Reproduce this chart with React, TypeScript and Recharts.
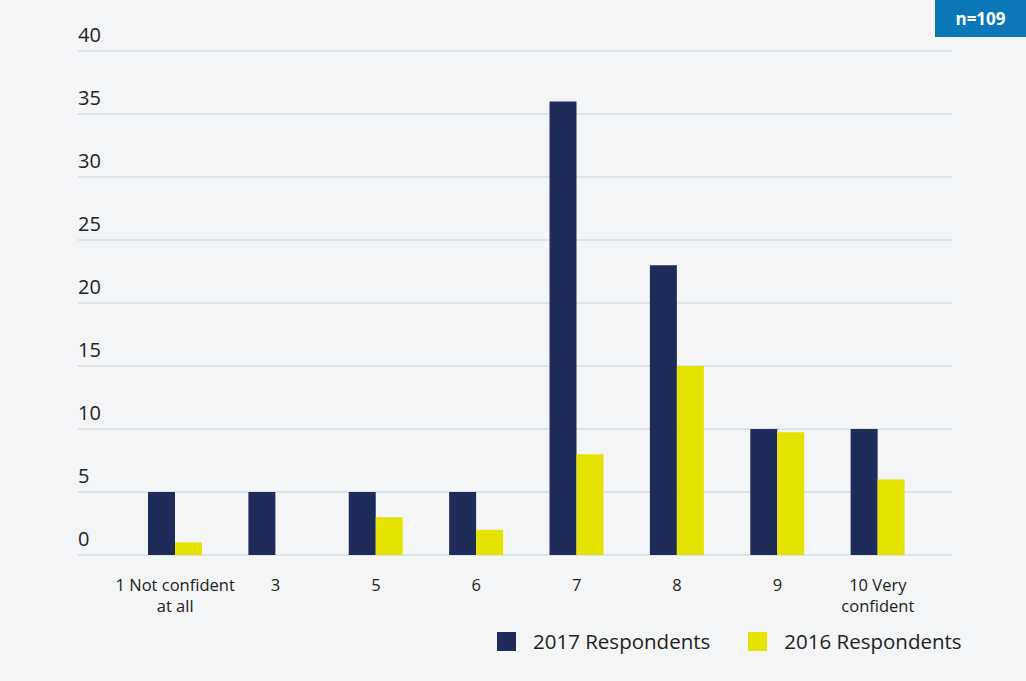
import { BarChart, Bar, XAxis, YAxis, CartesianGrid } from 'recharts';

const categories = ['1 Not confident\nat all', '3', '5', '6', '7', '8', '9', '10 Very\nconfident'];
const values2017 = [5, 5, 5, 5, 36, 23, 10, 10];
const values2016 = [1, 0, 3, 2, 8, 15, 9.75, 6];
const yTicks = [0, 5, 10, 15, 20, 25, 30, 35, 40];

const NAVY = '#1f2c5a';
const YELLOW = '#e6e200';
const FONT = "'Open Sans', Lato, sans-serif";

const data = categories.map((c, i) => ({
  label: c,
  r2017: values2017[i],
  r2016: values2016[i],
}));

function XTick(props: any) {
  const { x, y, payload } = props;
  const lines = String(payload.value).split('\n');
  return (
    <text x={x} y={y + 28} textAnchor="middle" fill="#222" fontSize={16.5} fontFamily={FONT}>
      {lines.map((l, i) => (
        <tspan key={i} x={x} dy={i === 0 ? 0 : 21}>
          {l}
        </tspan>
      ))}
    </text>
  );
}

function YTick(props: any) {
  const { y, payload } = props;
  return (
    <text x={78} y={y - 9} textAnchor="start" fill="#222" fontSize={20} fontFamily={FONT}>
      {payload.value}
    </text>
  );
}

export default function App() {
  return (
    <div
      style={{
        position: 'absolute',
        left: 0,
        top: 0,
        width: 1026,
        height: 681,
        background: '#f4f5f7',
        fontFamily: FONT,
        overflow: 'hidden',
      }}
    >
      <BarChart
        width={1026}
        height={681}
        data={data}
        margin={{ top: 51, right: 74, left: 38, bottom: 96 }}
        barGap={0}
        barCategoryGap={0}
      >
        <CartesianGrid vertical={false} stroke="#d5dde5" strokeWidth={1.5} />
        <XAxis
          dataKey="label"
          height={30}
          axisLine={false}
          tickLine={false}
          interval={0}
          padding={{ left: 47, right: 24 }}
          tick={<XTick />}
        />
        <YAxis
          width={40}
          domain={[0, 40]}
          ticks={yTicks}
          axisLine={false}
          tickLine={false}
          tick={<YTick />}
          interval={0}
        />
        <Bar dataKey="r2017" name="2017 Respondents" fill={NAVY} barSize={27} isAnimationActive={false} />
        <Bar dataKey="r2016" name="2016 Respondents" fill={YELLOW} barSize={27} isAnimationActive={false} />
      </BarChart>

      <div
        style={{
          position: 'absolute',
          left: 497,
          top: 627,
          display: 'flex',
          alignItems: 'center',
          fontSize: 20.5,
          color: '#222',
        }}
      >
        <span style={{ width: 19, height: 19, background: NAVY, display: 'inline-block' }} />
        <span style={{ marginLeft: 17 }}>2017 Respondents</span>
        <span style={{ width: 19, height: 19, background: YELLOW, display: 'inline-block', marginLeft: 38 }} />
        <span style={{ marginLeft: 17 }}>2016 Respondents</span>
      </div>

      <div
        style={{
          position: 'absolute',
          left: 935,
          top: 0,
          width: 91,
          height: 37,
          background: '#0a78b6',
          color: '#fff',
          fontWeight: 700,
          fontSize: 17,
          display: 'flex',
          alignItems: 'center',
          justifyContent: 'center',
        }}
      >
        n=109
      </div>
    </div>
  );
}
